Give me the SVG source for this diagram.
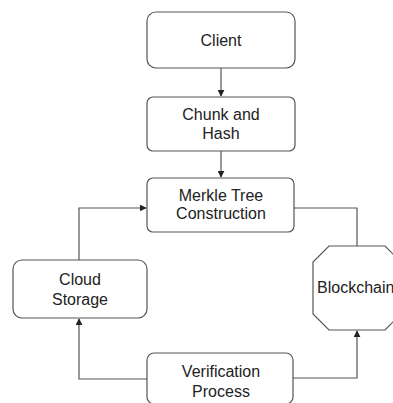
<svg xmlns="http://www.w3.org/2000/svg" width="393" height="403" viewBox="0 0 393 403">
<defs>
<marker id="arr" viewBox="0 0 10 10" refX="9" refY="5" markerWidth="7" markerHeight="7" orient="auto" markerUnits="userSpaceOnUse"><path d="M0,0 L10,5 L0,10 z" fill="#222"/></marker>
<style>
.box{fill:#fff;stroke:#555;stroke-width:1.2}
.t{font-family:"Liberation Sans",Arial,sans-serif;font-size:16px;fill:#222;text-anchor:middle}
.c{fill:none;stroke:#555;stroke-width:1.2}
</style>
</defs>
<rect width="393" height="403" fill="#fff"/>
<g id="connectors">
<path class="c" d="M221,68 V96" marker-end="url(#arr)"/>
<path class="c" d="M221,151 V177" marker-end="url(#arr)"/>
<path class="c" d="M294,208 H357 V246"/>
<path class="c" d="M79,260 V208 H146" marker-end="url(#arr)"/>
<path class="c" d="M147,379 H79 V319" marker-end="url(#arr)"/>
<path class="c" d="M293,378 H357 V331" marker-end="url(#arr)"/>
</g>
<g id="client"><rect class="box" x="147" y="12" width="148" height="56" rx="9"/><text class="t" x="221" y="46">Client</text></g>
<g id="chunk"><rect class="box" x="147" y="97" width="148" height="54" rx="6"/><text class="t" x="221" y="120">Chunk and</text><text class="t" x="221" y="139">Hash</text></g>
<g id="merkle"><rect class="box" x="147" y="178" width="147" height="54" rx="6"/><text class="t" x="221" y="201">Merkle Tree</text><text class="t" x="221" y="219">Construction</text></g>
<g id="cloud"><rect class="box" x="13" y="260" width="134" height="58" rx="9"/><text class="t" x="80" y="285">Cloud</text><text class="t" x="80" y="305">Storage</text></g>
<g id="blockchain"><polygon class="box" points="329,246 385,246 401,262 401,314 385,330 329,330 313,314 313,262"/><text class="t" x="317" y="293" style="text-anchor:start">Blockchain</text></g>
<g id="verification"><rect class="box" x="147" y="353" width="146" height="51" rx="7"/><text class="t" x="221" y="377">Verification</text><text class="t" x="221" y="397">Process</text></g>
</svg>
